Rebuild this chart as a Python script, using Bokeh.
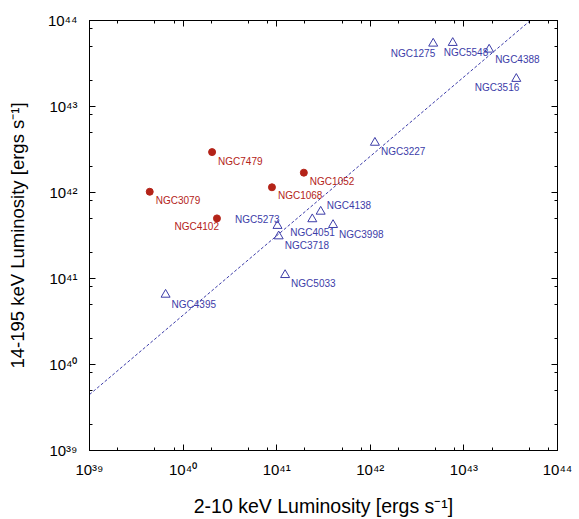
from bokeh.plotting import figure
from bokeh.models import (ColumnDataSource, FixedTicker, LogAxis, Range1d)
from bokeh.core.properties import value
from bokeh.embed import file_html
from bokeh.resources import INLINE

# ---- data ----
red_names = ["NGC7479", "NGC1052", "NGC1068", "NGC3079", "NGC4102"]
red_lx = [2.04e40, 1.95e41, 8.9e40, 4.4e39, 2.3e40]
red_lbat = [2.95e42, 1.70e42, 1.15e42, 1.02e42, 5.0e41]

blue_names = ["NGC3227", "NGC4138", "NGC4051", "NGC3998", "NGC5273", "NGC3718",
              "NGC5033", "NGC4395", "NGC1275", "NGC5548", "NGC4388", "NGC3516"]
blue_lx = [1.12e42, 2.95e41, 2.4e41, 4.0e41, 1.02e41, 1.05e41,
           1.23e41, 6.5e39, 4.7e42, 7.6e42, 1.86e43, 3.63e43]
blue_lbat = [3.8e42, 6.0e41, 4.9e41, 4.2e41, 4.1e41, 3.1e41,
             1.1e41, 6.5e40, 5.4e43, 5.5e43, 4.6e43, 2.1e43]

fit_lx = [1e39, 5.13e43]
fit_lbat = [4.47e39, 1e44]

decades = [1e39, 1e40, 1e41, 1e42, 1e43, 1e44]
tick_labels = ["10³⁹", "10⁴⁰", "10⁴¹", "10⁴²", "10⁴³", "10⁴⁴"]
minor_mult = [2, 5, 8]

# ---- label placement (styling only) ----
red_dx = [6, 6, 6, 6, 2]
red_dy = [4, 3, 3, 3, 3]
red_align = ["left", "left", "left", "left", "right"]
blue_dx = [6, 6, -22, 6, 2, 6, 6, 6, 2, -9, 6, 3]
blue_dy = [3, -12, 8, 4, -12, 4, 3, 4, 4, 4, 4, 3]
blue_align = ["left", "left", "left", "left", "right", "left",
              "left", "left", "right", "left", "left", "right"]

RED = "#b42318"
BLUE = "#3c3ca8"
FONT = "Liberation Sans"

p = figure(width=575, height=519, x_axis_type="log", y_axis_type="log",
           x_range=Range1d(1e39, 1e44), y_range=Range1d(1e39, 1e44),
           output_backend="svg", toolbar_location=None,
           min_border_left=89, min_border_right=18, min_border_top=20,
           min_border_bottom=68)
p.xgrid.visible = False
p.ygrid.visible = False
p.outline_line_color = "black"
p.outline_line_width = 1

minor = [m * d for d in decades[:-1] for m in minor_mult]
overrides = {d: lab for d, lab in zip(decades, tick_labels)}
blank = {d: "" for d in decades}


def style_axis(ax, labels=True):
    ax.ticker = FixedTicker(ticks=decades, minor_ticks=minor)
    ax.major_tick_in = 6
    ax.major_tick_out = 0
    ax.minor_tick_in = 3
    ax.minor_tick_out = 0
    ax.axis_line_color = "black"
    ax.major_tick_line_color = "black"
    ax.minor_tick_line_color = "black"
    if labels:
        ax.major_label_overrides = overrides
        ax.major_label_text_font = FONT
        ax.major_label_text_font_size = "15px"
        ax.major_label_text_color = "black"
        ax.axis_label_text_font = FONT
        ax.axis_label_text_font_size = "19px"
        ax.axis_label_text_font_style = "normal"
        ax.axis_label_text_color = "black"
    else:
        ax.major_label_overrides = blank
        ax.major_label_text_font_size = "8px"
        ax.major_label_standoff = 0


style_axis(p.xaxis[0])
style_axis(p.yaxis[0])
p.xaxis[0].axis_label = "2-10 keV Luminosity [ergs s⁻¹]"
p.yaxis[0].axis_label = "14-195 keV Luminosity [ergs s⁻¹]"
p.xaxis[0].axis_label_text_font_size = "19.5px"
p.yaxis[0].axis_label_text_font_size = "18.5px"
p.xaxis[0].major_label_standoff = 10
p.yaxis[0].major_label_standoff = 12
p.xaxis[0].axis_label_standoff = 14
p.yaxis[0].axis_label_standoff = 17

top_ax = LogAxis()
right_ax = LogAxis()
style_axis(top_ax, labels=False)
style_axis(right_ax, labels=False)
p.add_layout(top_ax, "above")
p.add_layout(right_ax, "right")

# fit line
p.line(fit_lx, fit_lbat, line_color=BLUE, line_width=1, line_dash="3 2")

red_src = ColumnDataSource(dict(x=red_lx, y=red_lbat, name=red_names,
                                dx=red_dx, dy=red_dy, align=red_align))
blue_src = ColumnDataSource(dict(x=blue_lx, y=blue_lbat, name=blue_names,
                                 dx=blue_dx, dy=blue_dy, align=blue_align))

p.scatter("x", "y", source=red_src, marker="circle", size=7,
          fill_color=RED, line_color=RED)
p.scatter("x", "y", source=blue_src, marker="triangle", size=9,
          fill_color=None, line_color=BLUE, line_width=1)

p.text("x", "y", text="name", source=red_src, x_offset="dx", y_offset="dy",
       text_align="align", text_baseline="top", text_color=RED,
       text_font=value(FONT), text_font_size="10px")
p.text("x", "y", text="name", source=blue_src, x_offset="dx", y_offset="dy",
       text_align="align", text_baseline="top", text_color=BLUE,
       text_font=value(FONT), text_font_size="10px")

open("out.html", "w").write(file_html(p, INLINE))
